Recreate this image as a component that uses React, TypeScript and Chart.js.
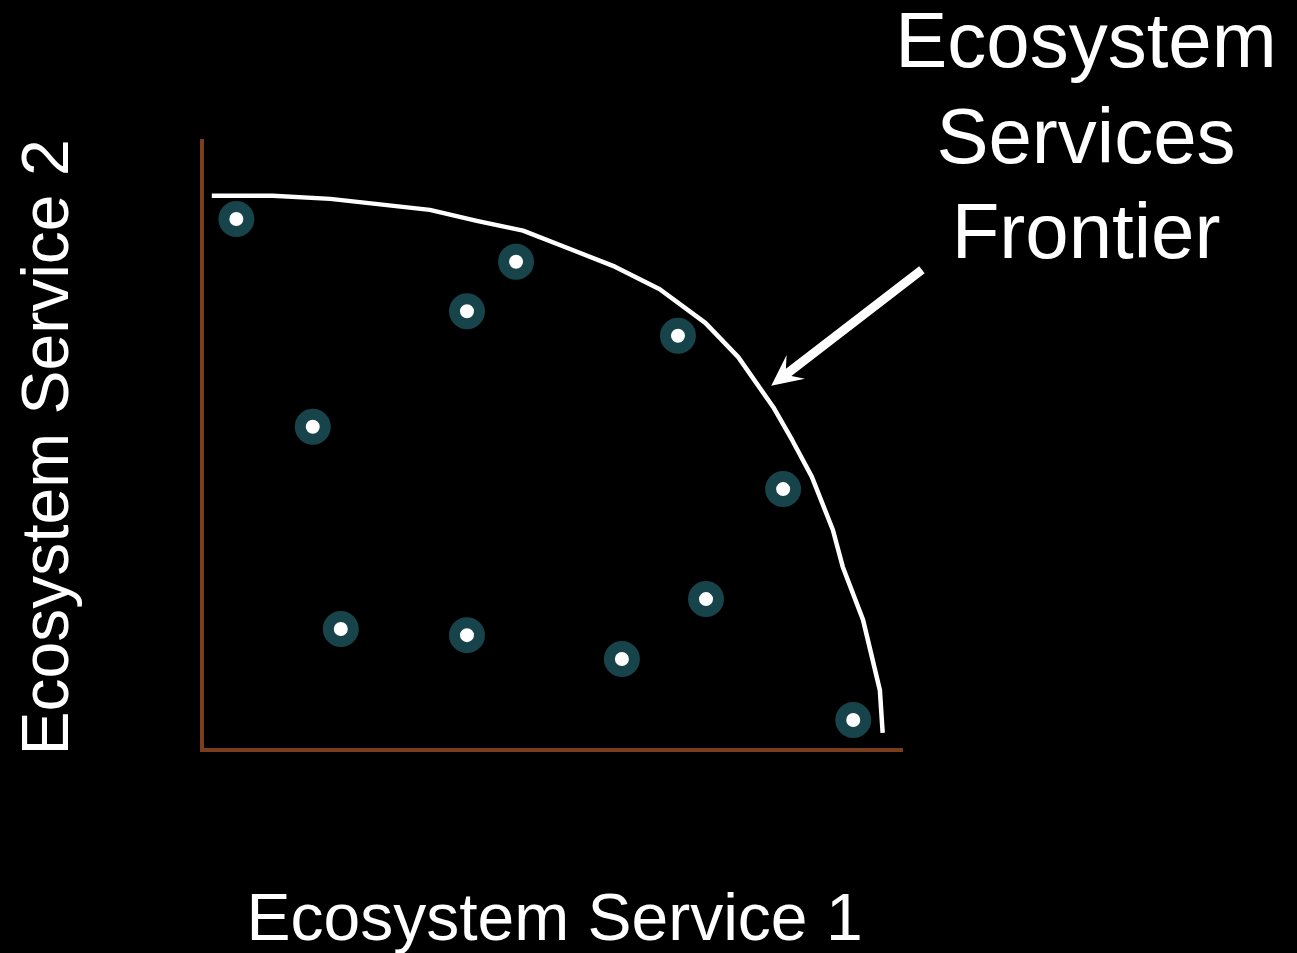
import React, { useEffect, useRef } from "react";
import { Chart, registerables } from "chart.js";

Chart.register(...registerables);

// Scattered alternative outcomes (Service 1, Service 2), arbitrary units 0-100
const pointsX = [4.9, 44.8, 37.8, 67.9, 15.8, 82.9, 71.9, 19.8, 37.8, 59.9, 92.9];
const pointsY = [86.9, 79.9, 71.8, 67.8, 52.9, 42.7, 24.7, 19.8, 18.8, 14.9, 4.9];

// Frontier curve
const frontierX = [1.4, 10.1, 18.3, 32.5, 39.2, 45.8, 52.5, 58.9, 65.3, 71.8, 76.5, 81.5, 84.2, 87.0, 90.0, 91.4, 94.3, 96.7, 97.1];
const frontierY = [90.7, 90.7, 90.2, 88.4, 86.6, 85.0, 82.0, 79.1, 75.4, 69.9, 64.3, 56.1, 50.7, 44.7, 36.0, 30.0, 21.3, 9.8, 2.8];

// Arrow annotation (start -> tip) in data units
const arrowFrom = [102.7, 78.6];
const arrowTo = [81.2, 59.6];

const xTitle = "Ecosystem Service 1";
const yTitle = "Ecosystem Service 2";
const frontierLabel = ["Ecosystem", "Services", "Frontier"];

const AXIS_COLOR = "#7a3d1e";
const FONT = "'Liberation Sans', Arial, sans-serif";

export default function App() {
  const ref = useRef<HTMLCanvasElement | null>(null);

  useEffect(() => {
    document.body.style.margin = "0";
    document.body.style.background = "#000";
    const canvas = ref.current;
    if (!canvas) return;

    const decor = {
      id: "decor",
      beforeDatasetsDraw(chart: any) {
        const { ctx, chartArea } = chart;
        ctx.save();
        ctx.strokeStyle = AXIS_COLOR;
        ctx.lineWidth = 4;
        ctx.beginPath();
        ctx.moveTo(chartArea.left, chartArea.top);
        ctx.lineTo(chartArea.left, chartArea.bottom + 2);
        ctx.moveTo(chartArea.left - 2, chartArea.bottom);
        ctx.lineTo(chartArea.right, chartArea.bottom);
        ctx.stroke();
        ctx.restore();
      },
      afterDraw(chart: any) {
        const { ctx, chartArea, scales } = chart;
        ctx.save();
        ctx.fillStyle = "#fff";
        // x title
        ctx.font = `66px ${FONT}`;
        ctx.textAlign = "center";
        ctx.textBaseline = "alphabetic";
        ctx.fillText(xTitle, (chartArea.left + chartArea.right) / 2 + 2, chartArea.bottom + 190);
        // y title
        ctx.save();
        ctx.translate(68, (chartArea.top + chartArea.bottom) / 2 + 3);
        ctx.rotate(-Math.PI / 2);
        ctx.fillText(yTitle, 0, 0);
        ctx.restore();
        // frontier label
        ctx.font = `78px ${FONT}`;
        const cx = 1086;
        const baselines = [67, 163, 258];
        frontierLabel.forEach((t, i) => ctx.fillText(t, cx, baselines[i]));

        // arrow
        const x0 = scales.x.getPixelForValue(arrowFrom[0]);
        const y0 = scales.y.getPixelForValue(arrowFrom[1]);
        const x1 = scales.x.getPixelForValue(arrowTo[0]);
        const y1 = scales.y.getPixelForValue(arrowTo[1]);
        const dx = x1 - x0, dy = y1 - y0;
        const len = Math.hypot(dx, dy);
        const ux = dx / len, uy = dy / len;
        const px = -uy, py = ux;
        const headLen = 31, headW = 15, notch = 22, shaftW = 4.5;
        const bx = x1 - ux * headLen, by = y1 - uy * headLen;
        const nx = x1 - ux * notch, ny = y1 - uy * notch;
        ctx.beginPath();
        ctx.moveTo(x0 + px * shaftW, y0 + py * shaftW);
        ctx.lineTo(nx + px * shaftW, ny + py * shaftW);
        ctx.lineTo(bx + px * headW, by + py * headW);
        ctx.lineTo(x1, y1);
        ctx.lineTo(bx - px * headW, by - py * headW);
        ctx.lineTo(nx - px * shaftW, ny - py * shaftW);
        ctx.lineTo(x0 - px * shaftW, y0 - py * shaftW);
        ctx.closePath();
        ctx.fill();
        ctx.restore();
      },
    };

    const chart = new Chart(canvas, {
      type: "scatter",
      data: {
        datasets: [
          {
            type: "line",
            label: "Frontier",
            data: frontierX.map((x, i) => ({ x, y: frontierY[i] })),
            borderColor: "#ffffff",
            borderWidth: 4.5,
            pointRadius: 0,
            fill: false,
            tension: 0,
            borderJoinStyle: "round",
          } as any,
          {
            label: "Outcomes",
            data: pointsX.map((x, i) => ({ x, y: pointsY[i] })),
            backgroundColor: "#ffffff",
            borderColor: "#17434a",
            borderWidth: 11,
            pointRadius: 12.5,
            pointHoverRadius: 12.5,
          },
        ],
      },
      options: {
        responsive: false,
        animation: false,
        clip: false as any,
        layout: { padding: { left: 202, right: 394, top: 139, bottom: 203 } },
        scales: {
          x: { type: "linear", min: 0, max: 100, display: false },
          y: { type: "linear", min: 0, max: 100, display: false },
        },
        plugins: {
          legend: { display: false },
          tooltip: { enabled: false },
        },
        events: [],
      },
      plugins: [decor],
    });

    return () => chart.destroy();
  }, []);

  return (
    <div style={{ width: 1297, height: 953, background: "#000" }}>
      <canvas ref={ref} width={1297} height={953} style={{ display: "block" }} />
    </div>
  );
}
